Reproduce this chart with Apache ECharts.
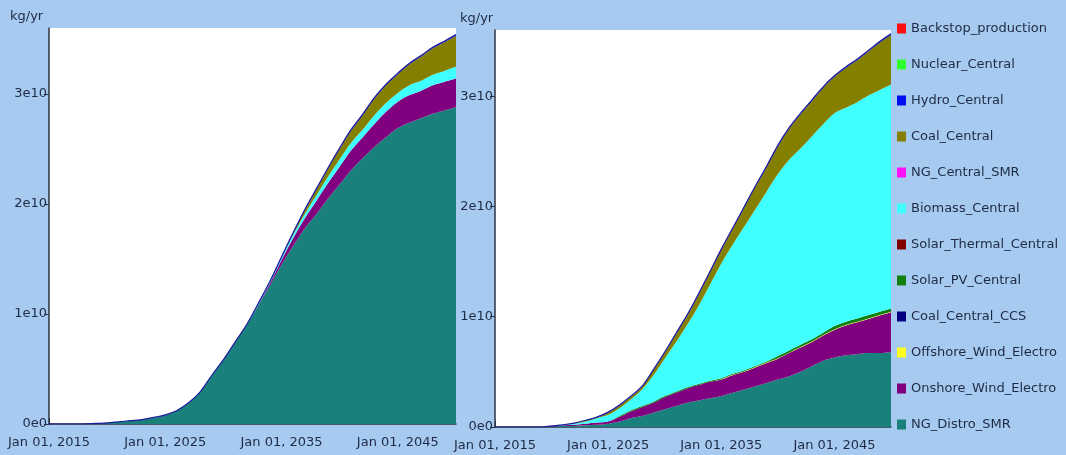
<!DOCTYPE html>
<html>
<head>
<meta charset="utf-8">
<script src="https://cdn.jsdelivr.net/npm/echarts@6/dist/echarts.min.js"></script>
<style>
  html, body { margin: 0; padding: 0; background: #a6caf0; }
  #chart { width: 1066px; height: 455px; }
</style>
</head>
<body>
<div id="chart"></div>
<script>
// 年份
var years = [2015, 2016, 2017, 2018, 2019, 2020, 2021, 2022, 2023, 2024, 2025, 2026,
  2027, 2028, 2029, 2030, 2031, 2032, 2033, 2034, 2035, 2036, 2037, 2038,
  2039, 2040, 2041, 2042, 2043, 2044, 2045, 2046, 2047, 2048, 2049, 2050];

// 数值单位 1e10 kg/yr
var unit = 1e10;

// 左图
var leftDistroSMR = [0, 0, 0, 0, 0.005, 0.01, 0.02, 0.03, 0.04, 0.06, 0.08, 0.12,
  0.19, 0.29, 0.44, 0.58, 0.74, 0.90, 1.08, 1.26, 1.45, 1.62, 1.78, 1.91,
  2.05, 2.18, 2.31, 2.42, 2.52, 2.61, 2.69, 2.74, 2.78, 2.82, 2.85, 2.88];
var leftOnshore = [0, 0, 0, 0, 0, 0, 0, 0, 0, 0, 0, 0,
  0, 0, 0, 0, 0, 0, 0.005, 0.02, 0.04, 0.07, 0.09, 0.12,
  0.14, 0.16, 0.18, 0.19, 0.21, 0.23, 0.24, 0.25, 0.25, 0.26, 0.26, 0.26];
var leftBiomass = [0, 0, 0, 0, 0, 0, 0, 0, 0, 0, 0, 0,
  0, 0, 0, 0, 0, 0, 0.005, 0.01, 0.02, 0.03, 0.04, 0.05,
  0.06, 0.07, 0.07, 0.07, 0.08, 0.08, 0.08, 0.09, 0.09, 0.095, 0.10, 0.11];
var leftCoal = [0, 0, 0, 0, 0, 0, 0, 0, 0, 0, 0, 0,
  0, 0, 0, 0, 0, 0, 0, 0, 0, 0.01, 0.03, 0.05,
  0.07, 0.09, 0.11, 0.13, 0.15, 0.16, 0.17, 0.19, 0.22, 0.24, 0.26, 0.28];
var leftHydro = [0, 0, 0, 0, 0, 0, 0, 0, 0, 0, 0.003, 0.003,
  0.003, 0.003, 0.003, 0.005, 0.005, 0.005, 0.008, 0.008, 0.01, 0.01, 0.01, 0.01,
  0.01, 0.01, 0.01, 0.01, 0.01, 0.01, 0.01, 0.01, 0.01, 0.01, 0.01, 0.01];

// 右图
var rightDistroSMR = [0, 0, 0, 0, 0, 0.005, 0.01, 0.01, 0.015, 0.02, 0.03, 0.05,
  0.08, 0.10, 0.13, 0.16, 0.19, 0.22, 0.24, 0.26, 0.28, 0.31, 0.34, 0.37,
  0.40, 0.43, 0.46, 0.50, 0.55, 0.60, 0.63, 0.65, 0.66, 0.67, 0.67, 0.68];
var rightOnshore = [0, 0, 0, 0, 0, 0.005, 0.005, 0.01, 0.015, 0.02, 0.02, 0.04,
  0.06, 0.08, 0.09, 0.11, 0.12, 0.13, 0.14, 0.15, 0.15, 0.16, 0.16, 0.17,
  0.18, 0.19, 0.21, 0.22, 0.22, 0.23, 0.25, 0.27, 0.29, 0.31, 0.34, 0.36];
var rightOffshore = [0, 0, 0, 0, 0, 0, 0, 0, 0, 0, 0, 0,
  0, 0, 0, 0, 0, 0, 0, 0, 0.003, 0.003, 0.003, 0.003,
  0.004, 0.004, 0.004, 0.005, 0.005, 0.005, 0.005, 0.005, 0.005, 0.005, 0.005, 0.005];
var rightSolarPV = [0, 0, 0, 0, 0, 0, 0, 0, 0, 0, 0, 0.01,
  0.01, 0.01, 0.01, 0.01, 0.01, 0.01, 0.01, 0.01, 0.01, 0.01, 0.01, 0.01,
  0.01, 0.02, 0.02, 0.02, 0.02, 0.02, 0.03, 0.03, 0.03, 0.03, 0.03, 0.03];
var rightBiomass = [0, 0, 0, 0, 0, 0, 0.005, 0.01, 0.02, 0.04, 0.06, 0.07,
  0.10, 0.15, 0.24, 0.34, 0.45, 0.57, 0.71, 0.87, 1.04, 1.17, 1.30, 1.42,
  1.54, 1.65, 1.73, 1.78, 1.84, 1.89, 1.93, 1.94, 1.96, 1.99, 2.01, 2.03];
var rightCoal = [0, 0, 0, 0, 0, 0, 0, 0.005, 0.01, 0.01, 0.02, 0.025,
  0.025, 0.025, 0.045, 0.05, 0.07, 0.08, 0.10, 0.11, 0.12, 0.14, 0.17, 0.20,
  0.22, 0.25, 0.28, 0.31, 0.32, 0.33, 0.33, 0.36, 0.38, 0.40, 0.43, 0.45];
var rightHydro = [0, 0, 0, 0, 0, 0, 0, 0, 0, 0, 0.005, 0.005,
  0.005, 0.005, 0.005, 0.01, 0.01, 0.01, 0.01, 0.01, 0.01, 0.01, 0.01, 0.01,
  0.01, 0.01, 0.01, 0.01, 0.01, 0.01, 0.01, 0.01, 0.01, 0.01, 0.01, 0.01];

// 图例顺序（从上到下）
var legendNames = ['Backstop_production', 'Nuclear_Central', 'Hydro_Central', 'Coal_Central',
  'NG_Central_SMR', 'Biomass_Central', 'Solar_Thermal_Central', 'Solar_PV_Central',
  'Coal_Central_CCS', 'Offshore_Wind_Electro', 'Onshore_Wind_Electro', 'NG_Distro_SMR'];

var colors = {
  Backstop_production: '#ff1010',
  Nuclear_Central: '#30ff30',
  Hydro_Central: '#0010f0',
  Coal_Central: '#857f00',
  NG_Central_SMR: '#ff10ff',
  Biomass_Central: '#40ffff',
  Solar_Thermal_Central: '#800000',
  Solar_PV_Central: '#108010',
  Coal_Central_CCS: '#000080',
  Offshore_Wind_Electro: '#ffff20',
  Onshore_Wind_Electro: '#800080',
  NG_Distro_SMR: '#1a807c'
};

var panels = [
  {
    NG_Distro_SMR: leftDistroSMR, Onshore_Wind_Electro: leftOnshore,
    Biomass_Central: leftBiomass, Coal_Central: leftCoal, Hydro_Central: leftHydro
  },
  {
    NG_Distro_SMR: rightDistroSMR, Onshore_Wind_Electro: rightOnshore,
    Offshore_Wind_Electro: rightOffshore, Solar_PV_Central: rightSolarPV,
    Biomass_Central: rightBiomass, Coal_Central: rightCoal, Hydro_Central: rightHydro
  }
];

// 堆叠从下往上
var stackOrder = legendNames.slice().reverse();

var series = [];
panels.forEach(function (p, gi) {
  stackOrder.forEach(function (name) {
    var arr = p[name];
    var isHydro = name === 'Hydro_Central';
    var s = {
      name: name,
      type: 'line',
      xAxisIndex: gi,
      yAxisIndex: gi,
      showSymbol: false,
      smooth: 0.35,
      color: colors[name],
      lineStyle: isHydro ? { width: 1.2, color: '#1c1c9a' } : { width: 0 },
      areaStyle: { color: colors[name], opacity: 1 },
      data: arr ? arr.map(function (v) { return v * unit; }) : []
    };
    // 只有有数据的系列参与堆叠
    if (arr) s.stack = 'total' + gi;
    series.push(s);
  });
});

var axisColor = '#2b3440';
var labelColor = '#1f2a44';
var font = 'DejaVu Sans';

function every10(i) { return i % 10 === 0; }

function xAxis(gi) {
  return {
    type: 'category',
    gridIndex: gi,
    data: years,
    boundaryGap: false,
    axisLine: { lineStyle: { color: axisColor, width: 1.5 } },
    axisTick: { inside: true, length: 6, interval: every10, lineStyle: { color: axisColor } },
    splitLine: { show: false },
    axisLabel: {
      interval: every10,
      margin: 12,
      color: labelColor,
      fontFamily: font,
      fontSize: 13,
      formatter: function (v) { return 'Jan 01, ' + v; }
    }
  };
}

function yAxis(gi) {
  return {
    type: 'value',
    gridIndex: gi,
    min: 0,
    max: 3.6e10,
    interval: 1e10,
    axisLine: { show: true, lineStyle: { color: axisColor, width: 1.5 } },
    axisTick: { show: true, length: 5, lineStyle: { color: axisColor } },
    splitLine: { show: false },
    axisLabel: {
      showMaxLabel: false,
      margin: 2,
      color: labelColor,
      fontFamily: font,
      fontSize: 13,
      formatter: function (v) { return v === 0 ? '0e0' : (v / 1e10) + 'e10'; }
    }
  };
}

var titleStyle = { fontSize: 13, fontWeight: 'normal', color: labelColor, fontFamily: font };

var option = {
  backgroundColor: '#a6caf0',
  animation: false,
  title: [
    { text: 'kg/yr', left: 5, top: 5, textStyle: titleStyle },
    { text: 'kg/yr', left: 455, top: 7, textStyle: titleStyle }
  ],
  legend: {
    orient: 'vertical',
    left: 892,
    top: 17,
    itemWidth: 9,
    itemHeight: 10,
    itemGap: 23,
    icon: 'rect',
    data: legendNames,
    textStyle: { color: labelColor, fontFamily: font, fontSize: 13 }
  },
  grid: [
    { left: 49, top: 28, width: 407, height: 396, show: true, backgroundColor: '#fff', borderWidth: 0 },
    { left: 495, top: 30, width: 396, height: 397, show: true, backgroundColor: '#fff', borderWidth: 0 }
  ],
  xAxis: [xAxis(0), xAxis(1)],
  yAxis: [yAxis(0), yAxis(1)],
  series: series
};

var chart = echarts.init(document.getElementById('chart'));
chart.setOption(option);
</script>
</body>
</html>
